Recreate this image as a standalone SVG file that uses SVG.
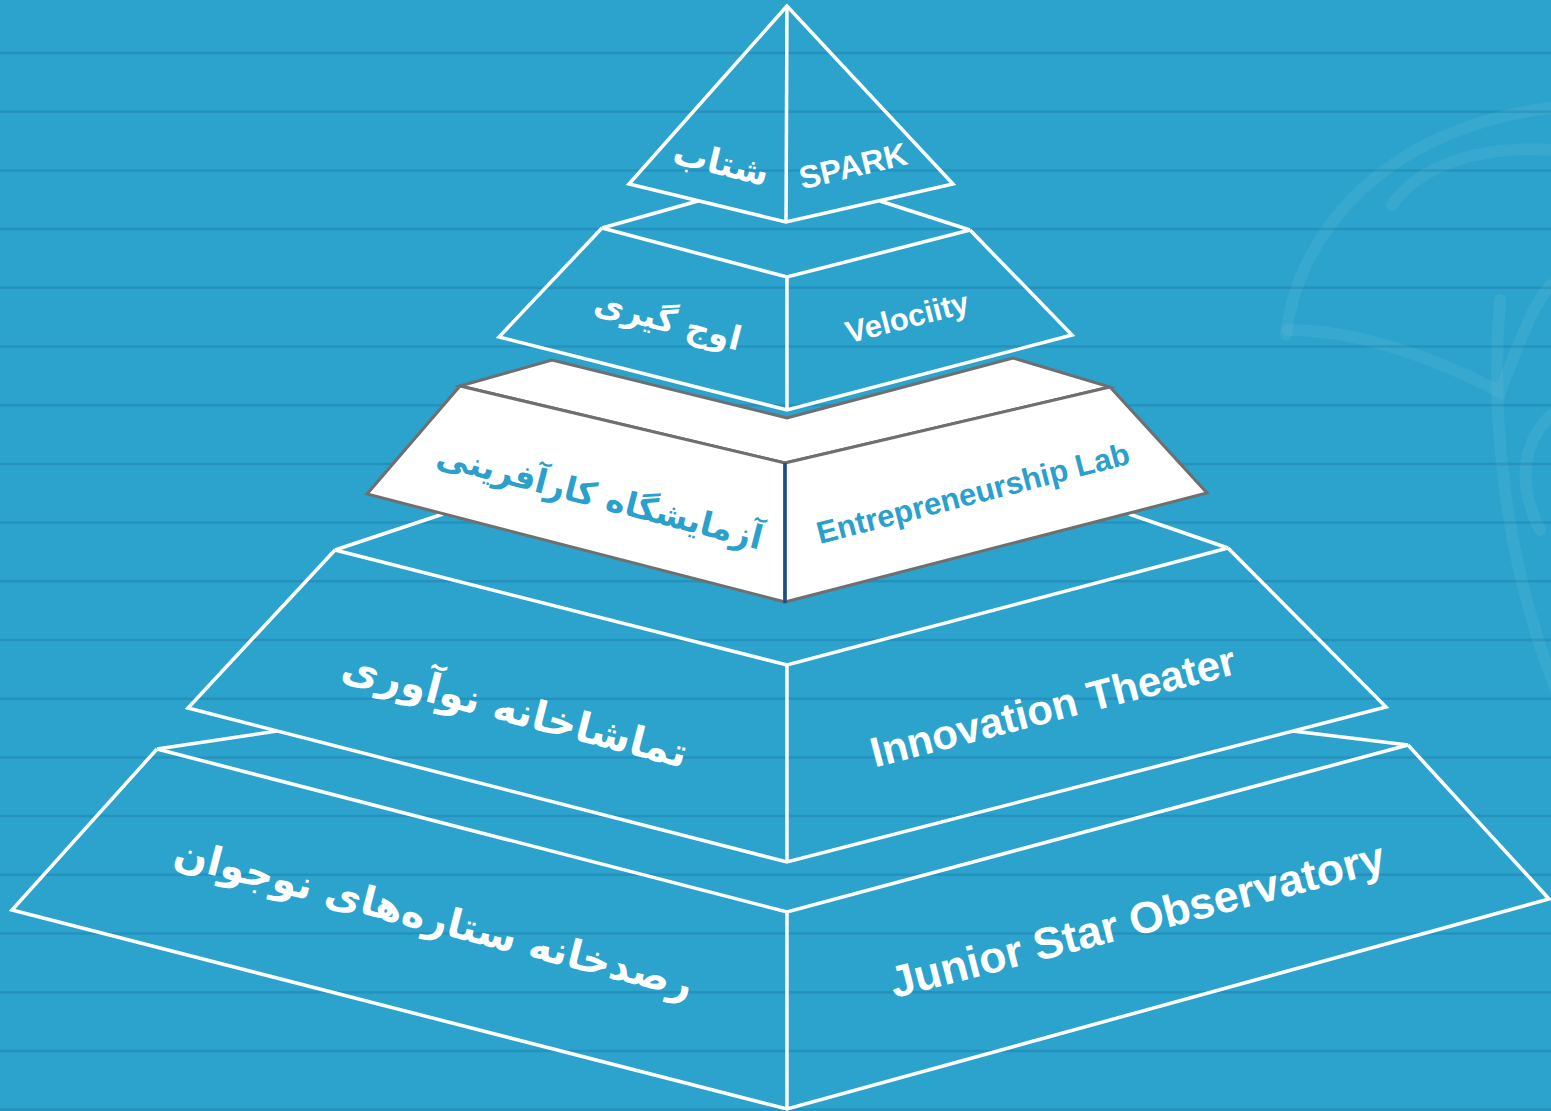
<svg xmlns="http://www.w3.org/2000/svg" width="1551" height="1111" viewBox="0 0 1551 1111">
<defs>
<style>
.bgline{stroke:#2390ba;stroke-width:2.5;opacity:0.85}
.wm{fill:none;stroke:#ffffff;stroke-opacity:0.055;stroke-width:12;stroke-linecap:round}
.edge{fill:none;stroke:#ffffff;stroke-width:3.5;stroke-linejoin:miter}
.wedge{fill:#ffffff;stroke:#6f6f6f;stroke-width:3;stroke-linejoin:miter}
.en{font-family:"Liberation Sans",Arial,sans-serif;font-weight:bold;fill:#ffffff;text-anchor:middle}
.fa{font-family:"DejaVu Sans","Noto Sans",sans-serif;font-weight:bold;fill:#ffffff;text-anchor:middle}
.blue{fill:#2ba0cc}
</style>
</defs>
<g id="background">
<rect x="0" y="0" width="1551" height="1111" fill="#2ca3cc"/>
<line class="bgline" x1="0" y1="53" x2="1551" y2="53"/>
<line class="bgline" x1="0" y1="111.7" x2="1551" y2="111.7"/>
<line class="bgline" x1="0" y1="170.4" x2="1551" y2="170.4"/>
<line class="bgline" x1="0" y1="229.1" x2="1551" y2="229.1"/>
<line class="bgline" x1="0" y1="287.8" x2="1551" y2="287.8"/>
<line class="bgline" x1="0" y1="346.5" x2="1551" y2="346.5"/>
<line class="bgline" x1="0" y1="405.2" x2="1551" y2="405.2"/>
<line class="bgline" x1="0" y1="463.9" x2="1551" y2="463.9"/>
<line class="bgline" x1="0" y1="522.6" x2="1551" y2="522.6"/>
<line class="bgline" x1="0" y1="581.3" x2="1551" y2="581.3"/>
<line class="bgline" x1="0" y1="640" x2="1551" y2="640"/>
<line class="bgline" x1="0" y1="698.7" x2="1551" y2="698.7"/>
<line class="bgline" x1="0" y1="757.4" x2="1551" y2="757.4"/>
<line class="bgline" x1="0" y1="816.1" x2="1551" y2="816.1"/>
<line class="bgline" x1="0" y1="874.8" x2="1551" y2="874.8"/>
<line class="bgline" x1="0" y1="933.5" x2="1551" y2="933.5"/>
<line class="bgline" x1="0" y1="992.2" x2="1551" y2="992.2"/>
<line class="bgline" x1="0" y1="1050.9" x2="1551" y2="1050.9"/>
<line class="bgline" x1="0" y1="1109.6" x2="1551" y2="1109.6"/>
</g>
<g id="watermark">
<path class="wm" d="M1286,335 C1300,220 1400,125 1551,108"/>
<path class="wm" d="M1392,205 C1420,165 1480,145 1551,150"/>
<path class="wm" d="M1288,330 C1360,330 1440,360 1500,392 C1520,340 1535,300 1551,285"/>
<path class="wm" d="M1500,300 C1490,420 1505,560 1556,690"/>
<path class="wm" d="M1551,415 C1525,440 1515,480 1540,530"/>
</g>
<g id="connectors">
<line class="edge" x1="698" y1="201" x2="602" y2="228"/>
<line class="edge" x1="880" y1="201" x2="970" y2="230"/>
<line class="edge" x1="443" y1="514" x2="335" y2="550"/>
<line class="edge" x1="1129" y1="514" x2="1228" y2="548"/>
<line class="edge" x1="277" y1="731" x2="157" y2="749"/>
<line class="edge" x1="1293" y1="731" x2="1408" y2="745"/>
</g>
<g id="tier-observatory">
<polyline class="edge" points="157,749 12,910 787,1109 1549,899 1408,745"/>
<polyline class="edge" points="157,749 787,912 1408,745"/>
<line class="edge" x1="787" y1="912" x2="787" y2="1109"/>
<text class="fa" font-size="40" transform="translate(434,918) rotate(14.5)" dy="14">رصدخانه ستاره‌های نوجوان</text>
<text class="en" font-size="44.5" transform="translate(1137,920) rotate(-14.5)" dy="15">Junior Star Observatory</text>
</g>
<g id="tier-theater">
<polyline class="edge" points="335,550 188,708 787,862 1386,707 1228,548"/>
<polyline class="edge" points="335,550 787,665 1228,548"/>
<line class="edge" x1="787" y1="665" x2="787" y2="862"/>
<text class="fa" font-size="41" transform="translate(515,710) rotate(14.5)" dy="14">تماشاخانه نوآوری</text>
<text class="en" font-size="42" transform="translate(1053,707) rotate(-14.5)" dy="14">Innovation Theater</text>
</g>
<g id="tier-lab">
<polygon class="wedge" points="460,386 552,360 787,418 1013,358 1110,387 785,463"/>
<polygon class="wedge" points="460,386 367,494 785,602 785,463"/>
<polygon class="wedge" points="785,463 785,602 1207,493 1110,387"/>
<line x1="785" y1="463" x2="785" y2="603" stroke="#1d4f85" stroke-width="3.5"/>
<text class="fa blue" font-size="33" transform="translate(600,496) rotate(14.5)" dy="12">آزمایشگاه کارآفرینی</text>
<text class="en blue" font-size="31" transform="translate(973,493) rotate(-14.5)" dy="11">Entrepreneurship Lab</text>
</g>
<g id="tier-velocity">
<polyline class="edge" points="602,228 499,337 787,410 1072,335 970,230"/>
<polyline class="edge" points="602,228 787,277 970,230"/>
<line class="edge" x1="787" y1="277" x2="787" y2="410"/>
<text class="en" font-size="31" transform="translate(907,317) rotate(-14.5)" dy="11">Velociity</text>
<text class="fa" font-size="33" transform="translate(668,320) rotate(14.5)" dy="12">اوج گیری</text>
</g>
<g id="tier-spark">
<polygon class="edge" points="787,6 629,184 786,222 953,184"/>
<line class="edge" x1="787" y1="6" x2="786" y2="222"/>
<text class="en" font-size="32" transform="translate(853,166) rotate(-13.5)" dy="11">SPARK</text>
<text class="fa" font-size="35" transform="translate(721,163) rotate(13.5)" dy="12">شتاب</text>
</g>
</svg>
